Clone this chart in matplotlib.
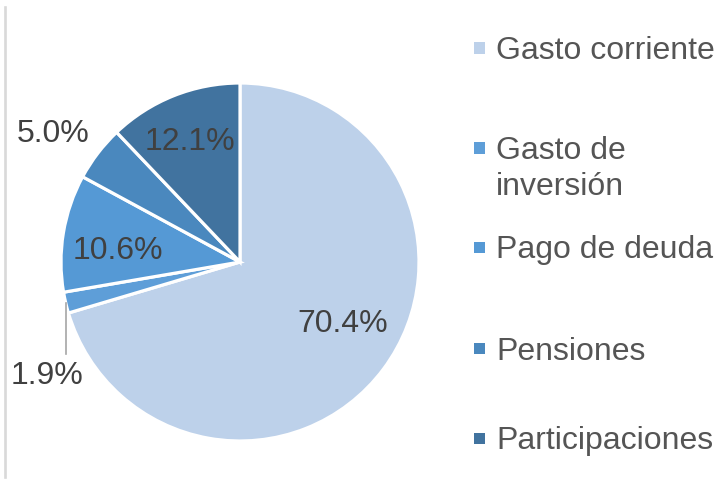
import numpy as np
import matplotlib
matplotlib.use("Agg")
import matplotlib.pyplot as plt
from matplotlib.lines import Line2D
from matplotlib.patches import Rectangle

plt.rcParams['font.family'] = ['Liberation Sans', 'DejaVu Sans']

categories = ["Gasto corriente", "Gasto de\ninversión", "Pago de deuda", "Pensiones", "Participaciones"]
values = [70.4, 1.9, 10.6, 5.0, 12.1]
labels = ["70.4%", "1.9%", "10.6%", "5.0%", "12.1%"]
colors = ["#BDD1EA", "#5E9ED8", "#5599D5", "#4A88BE", "#41739F"]

# label layout: (radius, angle offset from wedge middle in degrees)
label_r = [0.669, 1.253, 0.687, 1.264, 0.727]
label_dang = [5.6, 17.3, 4.3, 3.1, 1.0]

W, H = 715, 479
fig = plt.figure(figsize=(W / 100, H / 100), dpi=100)
fig.patch.set_facecolor("white")

cx, cy, R = 240, 262, 179
ax = fig.add_axes([(cx - R) / W, (H - cy - R) / H, 2 * R / W, 2 * R / H])
wedges, _ = ax.pie(values, colors=colors, startangle=90, counterclock=False,
                   radius=1.0, wedgeprops=dict(edgecolor="white", linewidth=2.3))
ax.set_xlim(-1, 1)
ax.set_ylim(-1, 1)
ax.set_aspect("equal")
ax.axis("off")

txt_col = "#404040"
for i, w in enumerate(wedges):
    mid = (w.theta1 + w.theta2) / 2.0
    ang = np.deg2rad(mid + label_dang[i])
    x, y = label_r[i] * np.cos(ang), label_r[i] * np.sin(ang)
    ax.text(x, y, labels[i], ha="center", va="center", fontsize=23, color=txt_col, clip_on=False)
    if i == 1:
        m = np.deg2rad(mid)
        ex, ey = np.cos(m), np.sin(m)
        ax.add_line(Line2D([ex, ex], [ey, -0.514], color="#A6A6A6", lw=1.2, clip_on=False))

# left border line
fig.add_artist(Line2D([4.5 / W, 4.5 / W], [1 - 7 / H, 1 - 477 / H], color="#D9D9D9", lw=1.9))

# legend (manual, Excel style)
leg_y = [47.5, 147.5, 246.5, 348, 438]
line_pitch = 36
leg_col = "#555555"
for i, cat in enumerate(categories):
    yc = leg_y[i]
    fig.add_artist(Rectangle((474 / W, 1 - (yc + 6) / H), 11 / W, 11 / H,
                             transform=fig.transFigure, facecolor=colors[i], edgecolor="none"))
    for k, line in enumerate(cat.split("\n")):
        fig.text(496 / W, 1 - (yc + 11.5 + k * line_pitch) / H, line, ha="left", va="baseline",
                 fontsize=23, color=leg_col)

fig.savefig("out.png", dpi=100, facecolor="white")
